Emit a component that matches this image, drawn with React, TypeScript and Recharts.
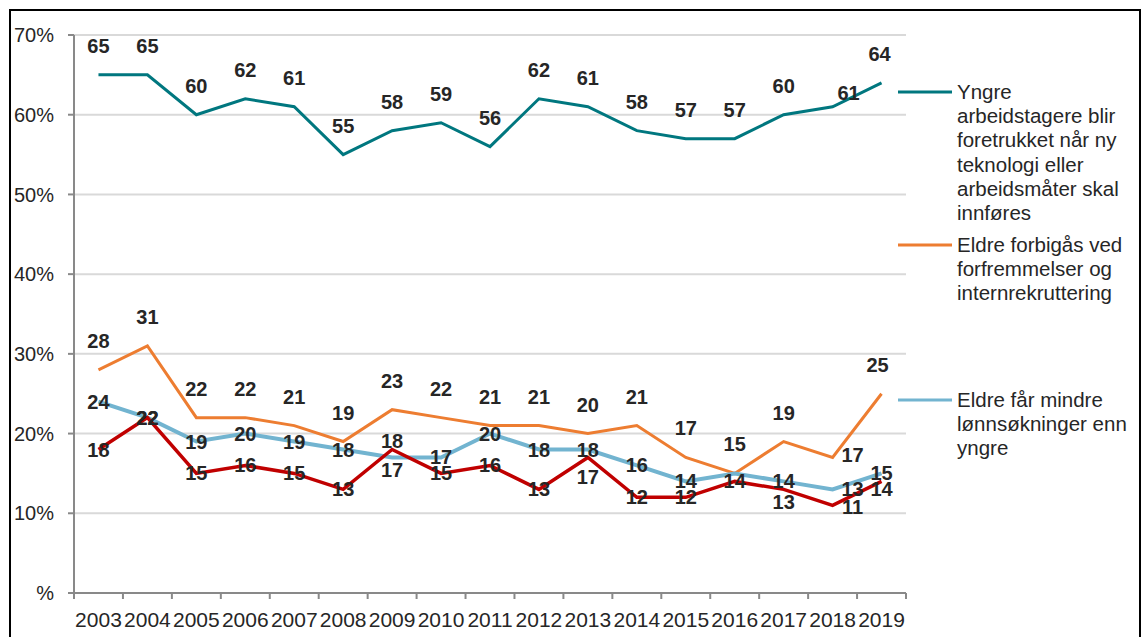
import { CartesianGrid, LabelList, Legend, Line, LineChart, XAxis, YAxis } from 'recharts'

const years = ['2003', '2004', '2005', '2006', '2007', '2008', '2009', '2010', '2011', '2012', '2013', '2014', '2015', '2016', '2017', '2018', '2019']
const yngreForetrukket = [65, 65, 60, 62, 61, 55, 58, 59, 56, 62, 61, 58, 57, 57, 60, 61, 64]
const forbigaas = [28, 31, 22, 22, 21, 19, 23, 22, 21, 21, 20, 21, 17, 15, 19, 17, 25]
const mindreLonn = [24, 22, 19, 20, 19, 18, 17, 17, 20, 18, 18, 16, 14, 15, 14, 13, 15]
const rodSerie = [18, 22, 15, 16, 15, 13, 18, 15, 16, 13, 17, 12, 12, 14, 13, 11, 14]
const yTicks = [0, 10, 20, 30, 40, 50, 60, 70]

const FONT = '"Liberation Sans", Arial, sans-serif'
const W = 1146
const H = 637
const PLOT_LEFT = 74
const PLOT_RIGHT = 906
const PLOT_BOTTOM = 593
const BAND = (PLOT_RIGHT - PLOT_LEFT) / years.length

const data = years.map((year, i) => ({
  year,
  yngre: yngreForetrukket[i],
  forbigaas: forbigaas[i],
  lonn: mindreLonn[i],
  rod: rodSerie[i],
}))

const series = [
  { key: 'yngre', name: 'Yngre\narbeidstagere blir\nforetrukket når ny\nteknologi eller\narbeidsmåter skal\ninnføres', color: '#00777f', width: 3, dy: -29 },
  { key: 'forbigaas', name: 'Eldre forbigås ved\nforfremmelser og\ninternrekruttering', color: '#ed7d31', width: 3, dy: -29 },
  { key: 'lonn', name: 'Eldre får mindre\nlønnsøkninger enn\nyngre', color: '#72b4d0', width: 4, dy: 0 },
  { key: 'rod', name: '', color: '#c00000', width: 3.5, dy: 0 },
]

// hand-placed labels in the original (moved to avoid overlaps)
type Nudge = { dx?: number; dy?: number; hide?: boolean }
const labelNudges: Record<string, Record<string, Nudge>> = {
  yngre: { '2018': { dx: 16, dy: -14 }, '2019': { dx: -2 } },
  forbigaas: { '2018': { dx: 20, dy: -2 }, '2019': { dx: -4 } },
  lonn: { '2009': { dy: 13 }, '2016': { hide: true }, '2018': { dx: 20, dy: 0 } },
  rod: { '2009': { dy: -9 }, '2013': { dy: 20 }, '2017': { dy: 13 }, '2018': { dx: 20, dy: 2 }, '2019': { dy: 8 } },
}

const legendTops = [80, 233, 388]

const makeLabel = (key: string, baseDy: number) => (props: any) => {
  const { index, value } = props
  const x = props.x ?? props.viewBox?.x
  const y = props.y ?? props.viewBox?.y
  const n = labelNudges[key]?.[years[index]] ?? {}
  if (n.hide || x == null || y == null) return null
  return (
    <text
      x={x + (n.dx ?? 0)}
      y={y + (n.dy ?? baseDy)}
      textAnchor="middle"
      dominantBaseline="central"
      fontFamily={FONT}
      fontSize={20}
      fontWeight="bold"
      fill="#262626"
    >
      {value}
    </text>
  )
}

const YearTick = (props: any) => {
  const { x, payload, index } = props
  const left = x - BAND / 2
  return (
    <g>
      <line x1={left} x2={left} y1={PLOT_BOTTOM} y2={PLOT_BOTTOM + 6} stroke="#898989" strokeWidth={2} />
      {index === years.length - 1 && (
        <line x1={x + BAND / 2} x2={x + BAND / 2} y1={PLOT_BOTTOM} y2={PLOT_BOTTOM + 6} stroke="#898989" strokeWidth={2} />
      )}
      <text x={x} y={PLOT_BOTTOM + 34} textAnchor="middle" fontFamily={FONT} fontSize={21} fill="#262626">
        {payload.value}
      </text>
    </g>
  )
}

const LegendBox = () => (
  <div style={{ position: 'relative', height: 0 }}>
    {series.slice(0, 3).map((s, i) => (
      <div key={s.key} style={{ position: 'absolute', left: 898, top: legendTops[i], display: 'flex', alignItems: 'flex-start' }}>
        <svg width={56} height={24} style={{ flex: 'none' }}>
          <line x1={0} x2={54} y1={12} y2={12} stroke={s.color} strokeWidth={3} />
        </svg>
        <div style={{ whiteSpace: 'pre', fontFamily: FONT, fontSize: 20.5, lineHeight: '24.2px', color: '#262626', marginLeft: 3 }}>
          {s.name}
        </div>
      </div>
    ))}
  </div>
)

export default function App() {
  return (
    <div style={{ position: 'absolute', left: 0, top: 0, width: W, height: H, overflow: 'hidden', background: '#fff' }}>
      <div
        style={{
          position: 'absolute',
          left: 9,
          top: 9,
          width: 1132,
          height: 700,
          border: '2px solid #000',
          borderBottom: 'none',
          boxSizing: 'border-box',
        }}
      />
      <div style={{ position: 'absolute', left: 0, top: 0 }}>
        <LineChart width={W} height={H} data={data} margin={{ top: 35, right: W - PLOT_RIGHT, bottom: 14, left: 10 }}>
          <CartesianGrid vertical={false} stroke="#d9d9d9" strokeWidth={2} />
          <XAxis
            dataKey="year"
            height={30}
            padding={{ left: BAND / 2, right: BAND / 2 }}
            axisLine={{ stroke: '#898989', strokeWidth: 2 }}
            tickLine={false}
            tickSize={0}
            tickMargin={0}
            interval={0}
            tick={<YearTick />}
          />
          <YAxis
            width={64}
            domain={[0, 70]}
            ticks={yTicks}
            interval={0}
            tickFormatter={(v: number) => (v === 0 ? '%' : `${v}%`)}
            axisLine={{ stroke: '#898989', strokeWidth: 2 }}
            tickLine={{ stroke: '#898989', strokeWidth: 2 }}
            tickSize={6}
            tickMargin={14}
            tick={{ fontFamily: FONT, fontSize: 20, fill: '#262626' }}
          />
          <Legend content={<LegendBox />} wrapperStyle={{ left: 0, top: 0, width: W, height: 0 }} />
          {series.map((s) => (
            <Line
              key={s.key}
              dataKey={s.key}
              name={s.name}
              stroke={s.color}
              strokeWidth={s.width}
              dot={false}
              activeDot={false}
              legendType={s.name ? 'line' : 'none'}
              isAnimationActive={false}
            >
              <LabelList dataKey={s.key} content={makeLabel(s.key, s.dy)} />
            </Line>
          ))}
        </LineChart>
      </div>
    </div>
  )
}
